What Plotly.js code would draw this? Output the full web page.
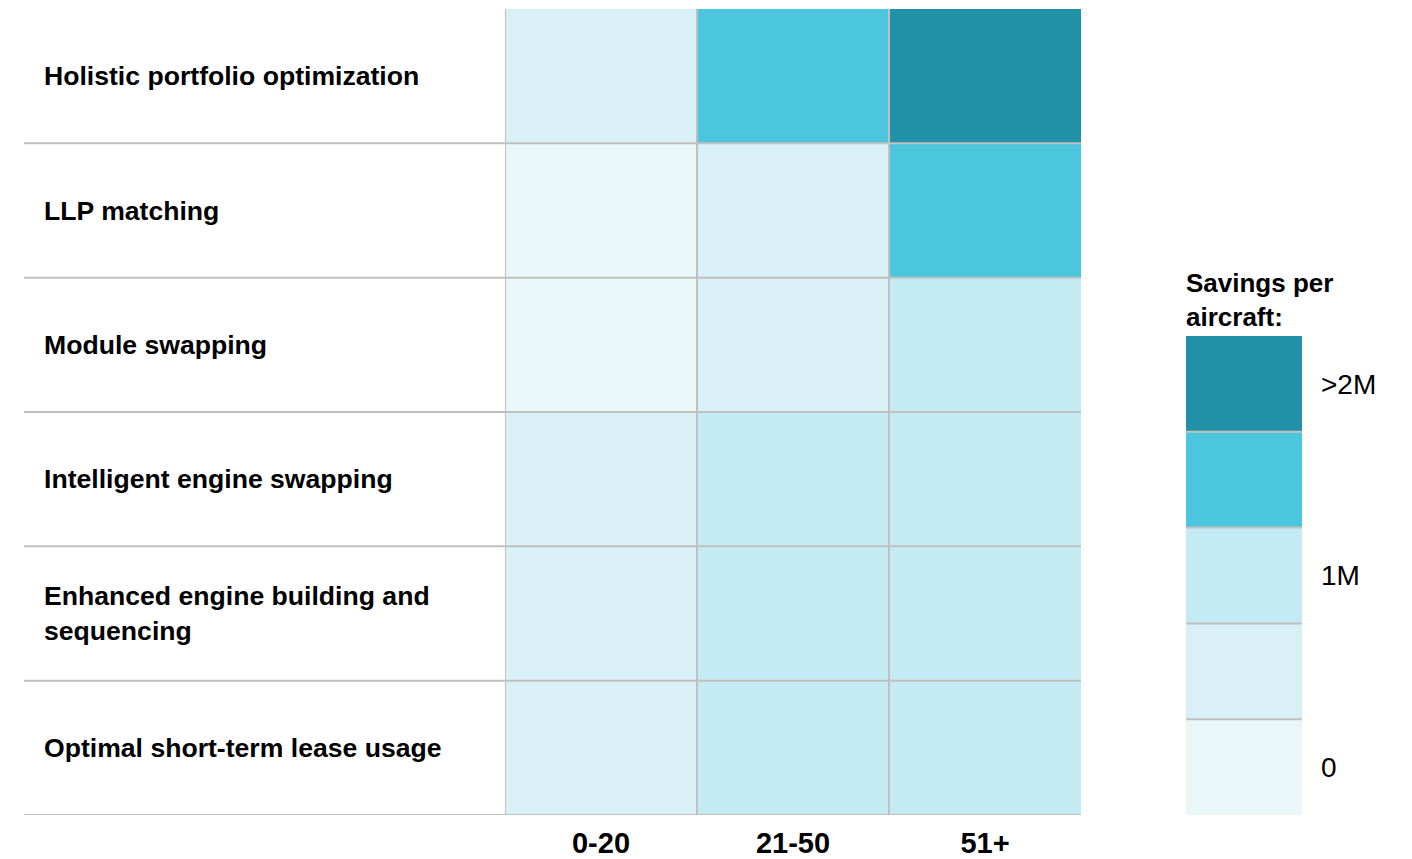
<!DOCTYPE html>
<html>
<head>
<meta charset="utf-8">
<script src="https://cdn.plot.ly/plotly-3.0.1.min.js"></script>
<style>
  html, body { margin: 0; padding: 0; background: #ffffff; }
  #chart { width: 1412px; height: 859px; }
</style>
</head>
<body>
<div id="chart"></div>
<script>
// ---- Data ----
const rowLabels = [
  "Holistic portfolio optimization",
  "LLP matching",
  "Module swapping",
  "Intelligent engine swapping",
  "Enhanced engine building and<br>sequencing",
  "Optimal short-term lease usage"
];
const colLabels = ["0-20", "21-50", "51+"];
// savings level per cell (0 = lowest, 4 = highest), rows top→bottom
const levels = [
  [1, 3, 4],
  [0, 1, 3],
  [0, 1, 2],
  [1, 2, 2],
  [1, 2, 2],
  [1, 2, 2]
];
const legendLevels = [0, 1, 2, 3, 4];
const legendTickVals = [0, 2, 4];
const legendTickText = ["0", "1M", ">2M"];
const legendTitle = "Savings per<br>aircraft:";
const levelColors = ["#e9f7f9", "#d9f1f6", "#c4ebf3", "#4bc6dd", "#2091a6"];

// ---- Styling ----
const W = 1412, H = 859;
const FONT = "Liberation Sans, Arial, Helvetica, sans-serif";
const gridColor = "#c0c0c0";

const colorscale = [];
levelColors.forEach((c, i) => {
  colorscale.push([i / levelColors.length, c]);
  colorscale.push([(i + 1) / levelColors.length, c]);
});

const xDom = [505 / W, 1081 / W];
const x2Dom = [1186 / W, 1302 / W];
const plotTop = 9, plotBottom = 815;
const plotH = plotBottom - plotTop;
const y2Top = (plotBottom - 336) / plotH;

const rowIdx = rowLabels.map((_, i) => i);
const colIdx = colLabels.map((_, i) => i);

const mainTrace = {
  type: "heatmap",
  x: colIdx,
  y: rowIdx,
  z: levels,
  zmin: -0.5, zmax: levelColors.length - 0.5,
  colorscale: colorscale,
  showscale: false,
  hoverinfo: "skip",
  xaxis: "x", yaxis: "y"
};

const legendTrace = {
  type: "heatmap",
  x: [0],
  y: legendLevels,
  z: legendLevels.map(v => [v]),
  zmin: -0.5, zmax: levelColors.length - 0.5,
  colorscale: colorscale,
  showscale: false,
  hoverinfo: "skip",
  xaxis: "x2", yaxis: "y2"
};

const shapes = [];
// horizontal row separators (between rows and at bottom), extending across labels
rowIdx.forEach(i => {
  shapes.push({
    type: "line", xref: "paper", yref: "y",
    x0: 24 / W, x1: xDom[1], y0: i + 0.5, y1: i + 0.5,
    line: { color: gridColor, width: 2 }, layer: "above"
  });
});
// vertical separators at left edge of each column
colIdx.forEach(j => {
  shapes.push({
    type: "line", xref: "x", yref: "paper",
    x0: j - 0.5, x1: j - 0.5, y0: 0, y1: 1,
    line: { color: gridColor, width: 2 }, layer: "above"
  });
});
// legend separators
legendLevels.slice(0, -1).forEach(v => {
  shapes.push({
    type: "line", xref: "x2 domain", yref: "y2",
    x0: 0, x1: 1, y0: v + 0.5, y1: v + 0.5,
    line: { color: gridColor, width: 2 }, layer: "above"
  });
});

const annotations = rowLabels.map((t, i) => ({
  xref: "paper", yref: "y",
  x: 42 / W, y: i,
  xanchor: "left", yanchor: "middle",
  align: "left",
  text: "<b>" + t.replace("<br>", "</b><br><b>") + "</b>",
  showarrow: false,
  font: { family: FONT, size: 26.6, color: "#000000" }
}));
annotations.push({
  xref: "paper", yref: "paper",
  x: 1184 / W, y: y2Top,
  xanchor: "left", yanchor: "bottom",
  align: "left",
  yshift: 2,
  text: "<b>" + legendTitle.replace("<br>", "</b><br><b>") + "</b>",
  showarrow: false,
  font: { family: FONT, size: 26, color: "#000000" }
});

const layout = {
  width: W, height: H,
  margin: { l: 0, r: 0, t: plotTop, b: H - plotBottom, pad: 0 },
  paper_bgcolor: "#ffffff",
  plot_bgcolor: "#ffffff",
  font: { family: FONT, color: "#000000" },
  showlegend: false,
  xaxis: {
    domain: xDom,
    range: [-0.5, colLabels.length - 0.5],
    tickvals: colIdx,
    ticktext: colLabels.map(c => "<b>" + c + "</b>"),
    tickfont: { family: FONT, size: 29, color: "#000000" },
    ticks: "", showgrid: false, zeroline: false, showline: false,
    ticklabelstandoff: 8,
    fixedrange: true
  },
  yaxis: {
    domain: [0, 1],
    range: [rowLabels.length - 0.5, -0.5],
    showticklabels: false, ticks: "", showgrid: false, zeroline: false, showline: false,
    fixedrange: true
  },
  xaxis2: {
    domain: x2Dom, anchor: "y2",
    range: [-0.5, 0.5],
    showticklabels: false, ticks: "", showgrid: false, zeroline: false, showline: false,
    fixedrange: true
  },
  yaxis2: {
    domain: [0, y2Top], anchor: "x2", side: "right",
    range: [-0.5, legendLevels.length - 0.5],
    tickvals: legendTickVals, ticktext: legendTickText,
    tickfont: { family: FONT, size: 28, color: "#000000" },
    ticks: "", showgrid: false, zeroline: false, showline: false,
    ticklabelstandoff: 18,
    fixedrange: true
  },
  shapes: shapes,
  annotations: annotations
};

Plotly.newPlot("chart", [mainTrace, legendTrace], layout, { displayModeBar: false, staticPlot: true });
</script>
</body>
</html>
